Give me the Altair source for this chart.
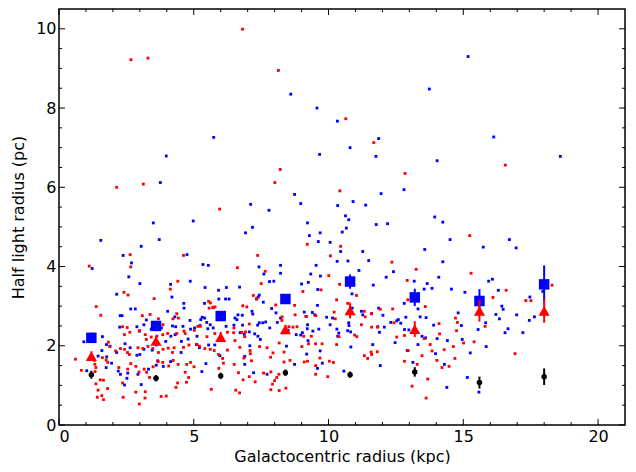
import altair as alt
import pandas as pd

# ---------------- data ----------------
blue_x = [3.50,4.98,1.55,3.72,3.05,2.38,4.75,2.69,1.23,5.34,2.59,3.00,4.87,4.14,2.14,4.19,2.66,2.83,4.03,4.63,
          4.64,5.40,2.27,2.34,4.30,4.86,5.31,5.26,2.25,2.89,3.15,3.24,2.98,3.42,3.80,4.21,4.33,4.60,4.88,5.03,
          5.23,0.92,1.61,1.76,1.89,1.59,1.45,1.77,1.95,2.14,2.45,2.64,2.89,3.00,3.15,3.46,3.61,3.96,4.15,4.31,
          4.54,4.79,5.12,5.21,5.10,4.53,4.14,3.66,3.61,3.87,3.32,2.93,2.55,2.20,2.28,1.75,1.03,2.52,3.05,2.43,
          5.30,
          7.18,6.92,9.22,9.29,9.69,9.62,10.06,10.51,10.45,10.32,5.54,7.42,8.22,9.54,7.60,8.22,9.34,9.70,7.81,
          7.97,9.00,9.25,9.60,5.42,5.92,6.21,6.70,7.43,7.39,7.33,7.58,6.18,6.31,5.93,5.72,7.89,8.05,8.22,7.16,
          7.19,6.64,6.53,6.80,6.60,5.40,5.48,5.61,5.52,5.72,6.20,6.49,6.81,7.43,7.37,7.56,7.67,8.10,7.82,7.06,
          7.26,7.38,7.47,6.72,6.87,9.10,9.16,9.59,9.40,9.49,9.22,9.21,9.42,9.64,9.93,10.15,10.06,10.31,10.34,
          10.38,8.97,8.50,8.80,9.03,9.24,9.69,9.19,9.77,9.59,8.74,8.44,7.08,6.89,5.55,5.78,5.97,5.45,7.22,6.89,
          7.72,10.57,
          10.75,11.77,12.19,14.24,14.51,10.66,11.27,10.72,11.49,13.57,14.24,15.74,11.13,12.41,12.14,11.66,13.18,
          13.66,13.55,13.84,14.09,14.56,15.06,10.87,10.88,11.22,11.27,11.60,11.86,12.02,10.75,10.76,10.71,10.82,
          11.83,11.89,12.07,12.31,12.53,12.59,12.68,12.87,12.81,13.32,13.40,13.62,13.90,14.81,14.93,12.82,12.98,
          13.47,13.60,13.32,12.47,14.03,14.41,14.96,15.26,15.55,15.85,15.83,10.83,11.64,11.92,12.92,13.13,13.97,
          14.30,14.39,15.15,15.58,
          16.71,16.96,16.08,15.94,16.30,17.47,16.43,16.48,16.21,16.34,16.98,17.64,17.45,16.66,16.55,17.21,17.95,
          8.60,9.57,10.33,5.74,3.98,9.67,3.76,8.74,8.97,7.11,7.79,10.34,
          15.18,13.74,11.86,10.80,11.76,14.03,16.13,18.60,11.95,12.80,10.91,11.38,10.63,13.94]
blue_y = [5.10,5.15,4.66,4.68,4.51,4.28,4.30,4.09,3.95,4.05,3.74,3.57,3.63,3.55,3.30,3.23,2.93,2.93,2.87,3.07,
          2.95,3.07,2.76,2.76,2.73,2.64,2.72,2.66,2.47,2.48,2.53,2.65,2.37,2.42,2.45,2.50,2.48,2.49,2.42,2.45,
          2.51,2.10,2.23,2.03,1.99,1.88,1.74,1.72,1.56,1.83,2.05,1.95,1.76,1.78,1.91,1.89,2.02,2.11,2.24,2.28,
          2.11,2.17,2.24,1.95,2.03,1.83,1.60,1.62,1.51,1.48,1.41,1.28,1.31,1.36,1.28,1.45,1.37,1.18,1.02,1.01,
          1.35,
          4.99,4.85,5.10,4.78,4.85,4.63,4.61,4.87,4.38,4.13,4.03,3.99,4.03,4.03,3.81,3.83,3.81,3.76,3.62,
          3.63,3.56,3.60,3.42,3.47,3.40,3.47,3.48,3.28,3.23,3.18,3.10,3.18,3.18,3.18,2.96,2.94,2.83,2.70,2.87,
          2.80,2.78,2.70,2.77,2.66,2.70,2.59,2.53,2.43,2.45,2.49,2.52,2.52,2.58,2.52,2.58,2.60,2.59,2.45,2.35,
          2.30,2.24,2.16,2.33,2.29,2.85,2.74,3.02,2.84,2.78,2.53,2.43,2.37,2.42,2.72,2.70,2.53,2.42,2.24,
          2.32,2.27,2.39,2.28,2.33,2.13,1.87,1.79,1.56,1.43,1.53,1.99,2.00,1.73,2.02,2.02,1.75,1.55,1.32,1.53,
          1.28,1.36,
          5.18,5.06,5.08,5.12,4.68,4.97,4.38,4.14,4.15,4.43,4.12,4.49,3.90,3.87,3.73,3.53,3.63,
          3.57,3.43,3.45,3.73,3.43,3.35,3.31,2.95,2.87,2.78,2.81,2.95,2.77,2.58,2.51,2.38,2.35,
          2.48,2.34,2.47,2.59,2.63,2.66,2.57,2.72,3.07,2.93,2.73,2.71,2.52,2.83,2.51,2.41,2.40,
          2.24,2.20,2.03,2.08,2.18,2.13,2.16,1.82,2.41,1.98,2.58,1.97,2.03,1.50,1.88,1.58,1.80,
          1.53,0.95,1.20,0.83,
          4.68,4.47,3.68,3.63,3.40,3.23,3.00,2.92,2.79,2.68,2.78,2.73,2.64,2.43,2.33,2.33,3.37,
          8.35,8.00,7.67,7.26,6.79,6.83,6.12,5.82,5.59,5.57,5.42,5.54,
          9.30,8.48,7.23,7.00,6.78,6.67,7.27,6.78,5.84,5.94,5.64,5.55,5.28,5.25]

red_x = [2.64,4.62,1.12,2.66,4.41,4.13,2.41,2.56,3.53,1.38,1.55,3.09,3.38,3.69,4.37,4.23,4.43,3.86,2.36,2.53,
         2.63,2.43,2.99,3.20,3.24,3.42,3.63,3.85,4.03,4.37,4.64,4.68,5.02,5.15,5.24,1.83,1.89,2.10,2.28,2.43,
         2.54,2.61,2.93,3.11,3.30,3.48,3.69,3.86,4.05,4.27,4.21,4.62,4.82,5.12,5.21,0.61,0.83,1.31,1.33,1.37,
         1.61,1.75,1.81,1.34,1.53,1.65,1.80,1.37,1.45,1.59,1.65,1.42,2.22,2.55,2.66,2.85,3.16,2.97,3.25,3.49,
         3.68,3.85,4.07,4.24,4.42,4.74,4.88,5.01,4.68,4.81,4.73,4.40,4.34,3.36,2.85,3.20,3.19,3.79,3.98,2.98,
         2.38,2.36,
         7.37,6.62,7.65,7.50,9.21,10.07,10.45,10.01,10.41,9.72,9.05,7.21,7.34,10.30,5.55,5.62,5.71,5.57,5.79,
         6.82,6.97,8.04,8.74,8.28,8.27,8.76,9.18,9.53,10.21,10.25,7.06,6.92,6.78,6.49,6.48,6.89,6.53,6.25,5.78,
         5.49,5.41,5.61,5.76,6.25,5.92,6.07,6.10,5.93,6.71,7.09,7.10,7.14,7.44,7.72,6.86,6.50,7.94,7.85,8.17,
         8.35,8.57,8.35,8.53,8.68,8.83,9.08,9.36,9.52,9.76,9.26,9.01,9.10,9.22,9.52,9.68,10.03,10.18,9.97,9.52,
         8.16,8.08,8.00,7.92,7.86,7.59,6.66,6.83,7.06,7.28,6.56,6.70,7.86,8.17,8.42,5.65,10.30,10.39,
         15.24,12.35,13.25,15.29,12.92,11.04,12.94,13.59,12.38,10.71,11.33,11.36,11.59,11.92,11.82,11.60,11.22,
         11.05,10.97,14.10,14.71,14.78,14.75,14.12,12.53,12.82,12.43,13.55,13.77,14.63,15.01,15.40,15.81,11.58,
         11.81,11.60,11.33,11.45,12.96,12.82,13.47,13.84,14.02,14.29,14.69,14.21,14.47,13.29,13.68,13.10,13.62,
         16.59,16.10,17.32,17.51,16.92,18.29,
         6.81,2.67,3.30,8.14,2.14,3.13,8.21,8.01,5.96,10.42,
         10.64,11.68,12.84,16.56]
red_y = [4.30,4.28,4.01,3.99,3.63,3.43,3.35,3.28,3.19,2.99,2.77,2.76,2.79,2.68,2.81,2.68,2.70,2.53,2.48,2.46,
         2.34,2.28,2.38,2.28,2.16,2.22,2.24,2.28,2.31,2.31,2.37,2.31,2.39,2.49,2.49,2.09,1.98,1.87,1.93,1.91,
         1.83,1.78,1.95,1.93,1.98,1.93,1.83,1.91,1.94,1.95,1.83,1.96,2.02,2.03,1.99,1.66,1.38,1.63,1.53,1.45,
         1.70,1.64,1.58,1.35,1.14,1.13,0.92,1.04,0.88,0.74,0.64,0.70,1.45,1.41,1.55,1.48,1.41,1.34,1.33,1.47,
         1.60,1.58,1.49,1.63,1.53,1.53,1.58,1.47,1.33,1.20,1.08,1.06,0.95,1.20,0.83,0.84,0.68,0.72,0.73,0.53,
         0.70,1.06,
         4.28,3.97,3.88,3.57,4.56,4.27,4.51,3.77,3.55,3.41,3.37,3.27,3.20,3.16,3.12,3.08,2.97,2.95,2.98,
         3.01,2.98,3.03,3.02,2.73,2.64,2.78,2.74,2.76,2.85,2.68,2.55,2.35,2.34,2.45,2.33,2.23,2.13,2.34,2.31,
         2.23,1.93,1.91,1.88,1.89,1.78,1.68,1.56,1.43,1.96,1.88,1.80,1.62,1.98,1.95,1.69,1.53,1.82,1.71,2.07,
         1.84,1.63,1.59,2.48,2.47,2.48,2.24,2.24,2.05,2.05,2.05,1.98,1.59,1.61,1.50,1.69,1.61,1.58,1.22,1.28,
         1.28,1.20,1.12,1.03,1.34,1.31,1.32,1.14,1.22,1.09,0.88,0.81,0.89,0.87,0.93,0.90,2.03,2.23,
         4.78,4.11,3.93,3.83,3.65,3.27,3.16,2.99,2.93,3.07,2.87,2.73,2.81,2.92,2.47,2.47,2.53,
         2.23,2.27,2.56,2.70,2.59,2.38,2.30,2.22,2.26,2.58,2.18,2.03,1.98,2.07,2.10,2.49,1.84,
         1.85,1.78,1.75,1.68,1.88,1.61,1.75,1.87,1.63,1.90,1.68,1.45,1.48,1.53,1.16,0.98,0.68,
         3.40,3.22,3.14,3.14,1.80,3.53,
         9.99,9.22,9.26,8.95,6.00,6.08,6.45,6.12,5.45,5.91,
         7.73,7.13,6.35,6.56]

bin_x = [1.2, 3.6, 6.0, 8.4, 10.8, 13.2, 15.6, 18.0]
blue_mean = [2.20, 2.50, 2.75, 3.18, 3.62, 3.22, 3.13, 3.55]
blue_err = [0.13, 0.10, 0.10, 0.12, 0.18, 0.22, 0.30, 0.48]
red_mean = [1.74, 2.12, 2.22, 2.41, 2.89, 2.42, 2.88, 2.88]
red_err = [0.12, 0.12, 0.13, 0.12, 0.20, 0.20, 0.27, 0.30]
black_mean = [1.27, 1.18, 1.24, 1.32, 1.27, 1.34, 1.07, 1.22]
black_err = [0.10, 0.08, 0.08, 0.08, 0.08, 0.12, 0.15, 0.21]

x_major = [0, 5, 10, 15, 20]
x_minor = [v for v in range(1, 21) if v % 5 != 0]
y_major = [0, 2, 4, 6, 8, 10]
y_minor = [v / 2 for v in range(1, 21) if v % 4 != 0]

# ---------------- chart ----------------
W, H = 566, 416
FONT = "DejaVu Sans"
xs = alt.Scale(domain=[0, 21], nice=False, zero=False)
ys = alt.Scale(domain=[0, 10.5], nice=False, zero=False)

xaxis = alt.Axis(values=x_major, ticks=False, domain=False, grid=False, labelFontSize=16,
                 labelFont=FONT, labelColor="black", labelPadding=3, title="Galactocentric radius (kpc)",
                 titleFont=FONT, titleFontSize=16, titleFontWeight="normal", titleColor="black",
                 titlePadding=4, format="d")
yaxis = alt.Axis(values=y_major, ticks=False, domain=False, grid=False, labelFontSize=16,
                 labelFont=FONT, labelColor="black", labelPadding=3, title="Half light radius (pc)",
                 titleFont=FONT, titleFontSize=16, titleFontWeight="normal", titleColor="black",
                 titlePadding=9, format="d")


def X(field):
    return alt.X(field, scale=xs, axis=xaxis)


def Y(field):
    return alt.Y(field, scale=ys, axis=yaxis)


blue_df = pd.DataFrame({"x": blue_x, "y": blue_y})
red_df = pd.DataFrame({"x": red_x, "y": red_y})

blue_pts = alt.Chart(blue_df).mark_square(size=8, color="#0000ff", opacity=1).encode(
    x=X("x:Q"), y=Y("y:Q"))
red_pts = alt.Chart(red_df).mark_square(size=8, color="#ff0000", opacity=1).encode(
    x=X("x:Q"), y=Y("y:Q"))


def binned(mean, err, color, shape, size):
    df = pd.DataFrame({"x": bin_x, "y": mean,
                       "lo": [m - e for m, e in zip(mean, err)],
                       "hi": [m + e for m, e in zip(mean, err)]})
    bars = alt.Chart(df).mark_rule(color=color, strokeWidth=2).encode(
        x=X("x:Q"), y=Y("lo:Q"), y2="hi:Q")
    pts = alt.Chart(df).mark_point(shape=shape, size=size, filled=True, color=color, opacity=1).encode(
        x=X("x:Q"), y=Y("y:Q"))
    return [bars, pts]


blue_bin = binned(blue_mean, blue_err, "#0000ff", "square", 110)
red_bin = binned(red_mean, red_err, "#ff0000", "triangle-up", 125)
black_bin = binned(black_mean, black_err, "black", "circle", 30)


def tick_layers():
    layers = []
    for vals, L in ((x_major, 6), (x_minor, 3)):
        df = pd.DataFrame({"v": vals})
        layers.append(alt.Chart(df).mark_rule(color="black", strokeWidth=1).encode(
            x=X("v:Q"), y=alt.value(H), y2=alt.value(H - L)))
        layers.append(alt.Chart(df).mark_rule(color="black", strokeWidth=1).encode(
            x=X("v:Q"), y=alt.value(0), y2=alt.value(L)))
    for vals, L in ((y_major, 6), (y_minor, 3)):
        df = pd.DataFrame({"v": vals})
        layers.append(alt.Chart(df).mark_rule(color="black", strokeWidth=1).encode(
            y=Y("v:Q"), x=alt.value(0), x2=alt.value(L)))
        layers.append(alt.Chart(df).mark_rule(color="black", strokeWidth=1).encode(
            y=Y("v:Q"), x=alt.value(W), x2=alt.value(W - L)))
    return layers


chart = alt.layer(blue_pts, red_pts, *blue_bin, *red_bin, *black_bin, *tick_layers()).properties(
    width=W, height=H, background="white",
    padding={"left": 2, "top": 0, "right": 0, "bottom": 0}
).configure_view(stroke="black", strokeWidth=1.5)

chart.save("out.html", embed_options={"renderer": "svg", "actions": False})
